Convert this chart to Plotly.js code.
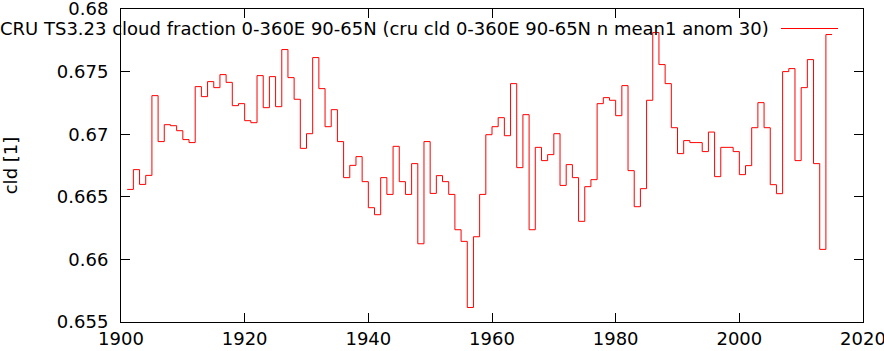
<!DOCTYPE html>
<html>
<head>
<meta charset="utf-8">
<script src="https://cdn.plot.ly/plotly-3.0.1.min.js"></script>
<style>html,body{margin:0;padding:0;background:#fff;}#chart{width:884px;height:351px;}</style>
</head>
<body>
<div id="chart"></div>
<script>
// Years (each value spans [year, year+1])
const years = [];
for (let y = 1901; y <= 2014; y++) years.push(y);

// Cloud fraction values, 1901..2014
const cld = [
  0.66559, 0.66717, 0.66599, 0.66671, 0.67308, 0.66941, 0.67076, 0.67068, 0.67028, 0.66957,
  0.66933, 0.67380, 0.67300, 0.67420, 0.67372, 0.67476, 0.67414, 0.67228, 0.67244, 0.67108,
  0.67092, 0.67468, 0.67212, 0.67460, 0.67220, 0.67676, 0.67452, 0.67279, 0.66887, 0.67004,
  0.67612, 0.67364, 0.67060, 0.67196, 0.66941, 0.66653, 0.66751, 0.66821, 0.66621, 0.66413,
  0.66357, 0.66653, 0.66519, 0.66903, 0.66621, 0.66519, 0.66765, 0.66125, 0.66941, 0.66527,
  0.66669, 0.66621, 0.66519, 0.66237, 0.66144, 0.65616, 0.66181, 0.66519, 0.66996, 0.67060,
  0.67132, 0.66988, 0.67404, 0.66733, 0.67156, 0.66237, 0.66895, 0.66789, 0.66837, 0.67004,
  0.66591, 0.66757, 0.66653, 0.66304, 0.66581, 0.66637, 0.67244, 0.67292, 0.67271, 0.67148,
  0.67388, 0.66709, 0.66421, 0.66565, 0.67271, 0.67812, 0.67556, 0.67404, 0.67052, 0.66845,
  0.66949, 0.66933, 0.66933, 0.66861, 0.67017, 0.66661, 0.66895, 0.66895, 0.66861, 0.66677,
  0.66749, 0.67052, 0.67252, 0.67052, 0.66597, 0.66525, 0.67500, 0.67524, 0.66789, 0.67372,
  0.67596, 0.66765, 0.66080, 0.67796
];

const xTicks = [1900, 1920, 1940, 1960, 1980, 2000, 2020];
const yTicks = [0.655, 0.66, 0.665, 0.67, 0.675, 0.68];
const yTickText = ['0.655', '0.66', '0.665', '0.67', '0.675', '0.68'];
const seriesName = 'CRU TS3.23 cloud fraction 0-360E 90-65N (cru cld 0-360E 90-65N n mean1 anom 30)';
const yLabel = 'cld [1]';

// step edges: close the last step at year+1
const xs = years.concat([years[years.length - 1] + 1]);
const ys = cld.concat([cld[cld.length - 1]]);

const FONT = 'DejaVu Sans, sans-serif';
const FS = 18;
const trace = {
  x: xs, y: ys, type: 'scatter', mode: 'lines',
  line: {shape: 'hv', color: '#ff0000', width: 1},
  name: seriesName, showlegend: false, hoverinfo: 'x+y'
};

const L = 121, R = 21, T = 9, B = 29;
const W = 884, H = 351;
const pw = W - L - R, ph = H - T - B;
const px2x = p => (p - L) / pw;
const px2y = p => (H - B - p) / ph;

const layout = {
  width: W, height: H,
  margin: {l: L, r: R, t: T, b: B, pad: 0},
  paper_bgcolor: '#ffffff', plot_bgcolor: '#ffffff',
  font: {family: FONT, size: FS, color: '#000000'},
  xaxis: {
    range: [1900, 2020], tickvals: xTicks, ticktext: xTicks.map(String),
    ticks: 'inside', ticklen: 9, tickcolor: '#000', tickwidth: 1,
    showline: true, linecolor: '#000', linewidth: 1, mirror: 'ticks',
    showgrid: false, zeroline: false, fixedrange: true,
    ticklabeloverflow: 'allow',
    tickfont: {family: FONT, size: FS, color: '#000'}
  },
  yaxis: {
    range: [0.655, 0.68], tickvals: yTicks, ticktext: yTickText,
    ticks: 'inside', ticklen: 9, tickcolor: '#000', tickwidth: 1,
    showline: true, linecolor: '#000', linewidth: 1, mirror: 'ticks',
    showgrid: false, zeroline: false, fixedrange: true,
    ticklabelstandoff: 8, ticklabeloverflow: 'allow',
    tickfont: {family: FONT, size: FS, color: '#000'},
    title: {text: yLabel, font: {family: FONT, size: FS, color: '#000'}, standoff: 34}
  },
  annotations: [{
    xref: 'paper', yref: 'paper', x: px2x(-2), y: px2y(28),
    xanchor: 'left', yanchor: 'middle', showarrow: false,
    text: seriesName, font: {family: FONT, size: FS, color: '#000'}
  }],
  shapes: [{
    type: 'line', xref: 'paper', yref: 'paper',
    x0: px2x(781), x1: px2x(838), y0: px2y(28.5), y1: px2y(28.5),
    line: {color: '#ff0000', width: 1}
  }]
};

Plotly.newPlot('chart', [trace], layout, {displayModeBar: false, staticPlot: true});
</script>
</body>
</html>
